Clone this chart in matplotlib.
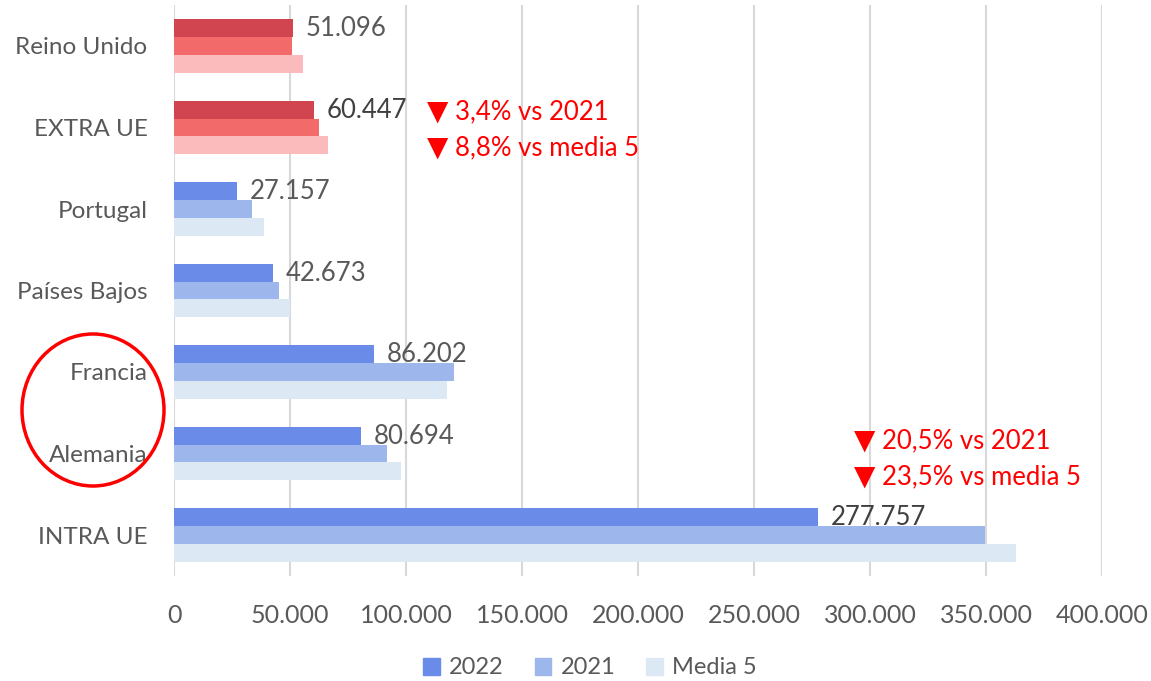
import matplotlib.pyplot as plt
from matplotlib.patches import Ellipse, Patch
import numpy as np

plt.rcParams['font.family'] = ['Lato', 'DejaVu Sans']

# categorias (de abajo hacia arriba)
categorias = ['INTRA UE', 'Alemania', 'Francia', 'Países Bajos', 'Portugal', 'EXTRA UE', 'Reino Unido']
v2022 = [277757, 80694, 86202, 42673, 27157, 60447, 51096]
v2021 = [349400, 91800, 120700, 45300, 33600, 62570, 50900]
media5 = [363100, 97800, 117700, 50000, 38800, 66280, 55600]
etiquetas = ['277.757', '80.694', '86.202', '42.673', '27.157', '60.447', '51.096']
ticks_x = [0, 50000, 100000, 150000, 200000, 250000, 300000, 350000, 400000]
ticks_lbl = ['0', '50.000', '100.000', '150.000', '200.000', '250.000', '300.000', '350.000', '400.000']

azul = ['#6A8CE8', '#9DB7EC', '#DDE8F5']
rojo = ['#D0454F', '#F36A6A', '#FBBABB']
gris = '#595959'

fig = plt.figure(figsize=(11.51, 6.81), dpi=100)
ax = fig.add_axes([174 / 1151, 1 - 575.75 / 681, (1102 - 174) / 1151, 570.5 / 681])

y = np.arange(len(categorias))
h = 0.22
for i in range(len(categorias)):
    cols = rojo if categorias[i] in ('EXTRA UE', 'Reino Unido') else azul
    ax.barh(y[i] + h, v2022[i], height=h, color=cols[0])
    ax.barh(y[i], v2021[i], height=h, color=cols[1])
    ax.barh(y[i] - h, media5[i], height=h, color=cols[2])
    c = '#404040' if categorias[i] in ('INTRA UE', 'EXTRA UE') else gris
    ax.text(v2022[i] + 5500, y[i] + h - 0.01, etiquetas[i], fontsize=18.5, color=c,
            va='center', ha='left')

ax.set_xlim(0, 400000)
ax.set_ylim(-0.5, 6.5)
ax.set_xticks(ticks_x)
ax.set_xticklabels(ticks_lbl)
ax.set_yticks(y)
ax.set_yticklabels(categorias)
ax.tick_params(axis='x', length=0, pad=20, labelsize=18, labelcolor=gris)
ax.tick_params(axis='y', length=0, pad=19, labelsize=17.5, labelcolor=gris)
ax.grid(axis='x', color='#D9D9D9', linewidth=1.5)
ax.set_axisbelow(True)
for s in ax.spines.values():
    s.set_visible(False)

# anotaciones
rojo_txt = '#FF0000'
notas = [(109000, 5.19, '3,4% vs 2021'), (109000, 4.75, '8,8% vs media 5'),
         (293000, 1.16, '20,5% vs 2021'), (293000, 0.72, '23,5% vs media 5')]
for xn, yn, t in notas:
    ax.text(xn, yn, '▼', color=rojo_txt, fontsize=20, va='center', ha='left')
    ax.text(xn + 12000, yn, t, color=rojo_txt, fontsize=18.5, va='center', ha='left')

# circulo rojo
fig.patches.append(Ellipse((93 / 1151, 1 - 410 / 681), 142 / 1151, 152 / 681,
                           transform=fig.transFigure, fill=False, edgecolor='#FF0000', linewidth=2.5))

# leyenda
handles = [Patch(color=azul[0]), Patch(color=azul[1]), Patch(color=azul[2])]
fig.legend(handles, ['2022', '2021', 'Media 5'], loc='center', bbox_to_anchor=(590 / 1151, 1 - 668 / 681),
           ncol=3, frameon=False, fontsize=17, labelcolor=gris, handlelength=0.7, handleheight=0.7,
           columnspacing=1.3, handletextpad=0.4)

fig.savefig('out.png', dpi=100)
